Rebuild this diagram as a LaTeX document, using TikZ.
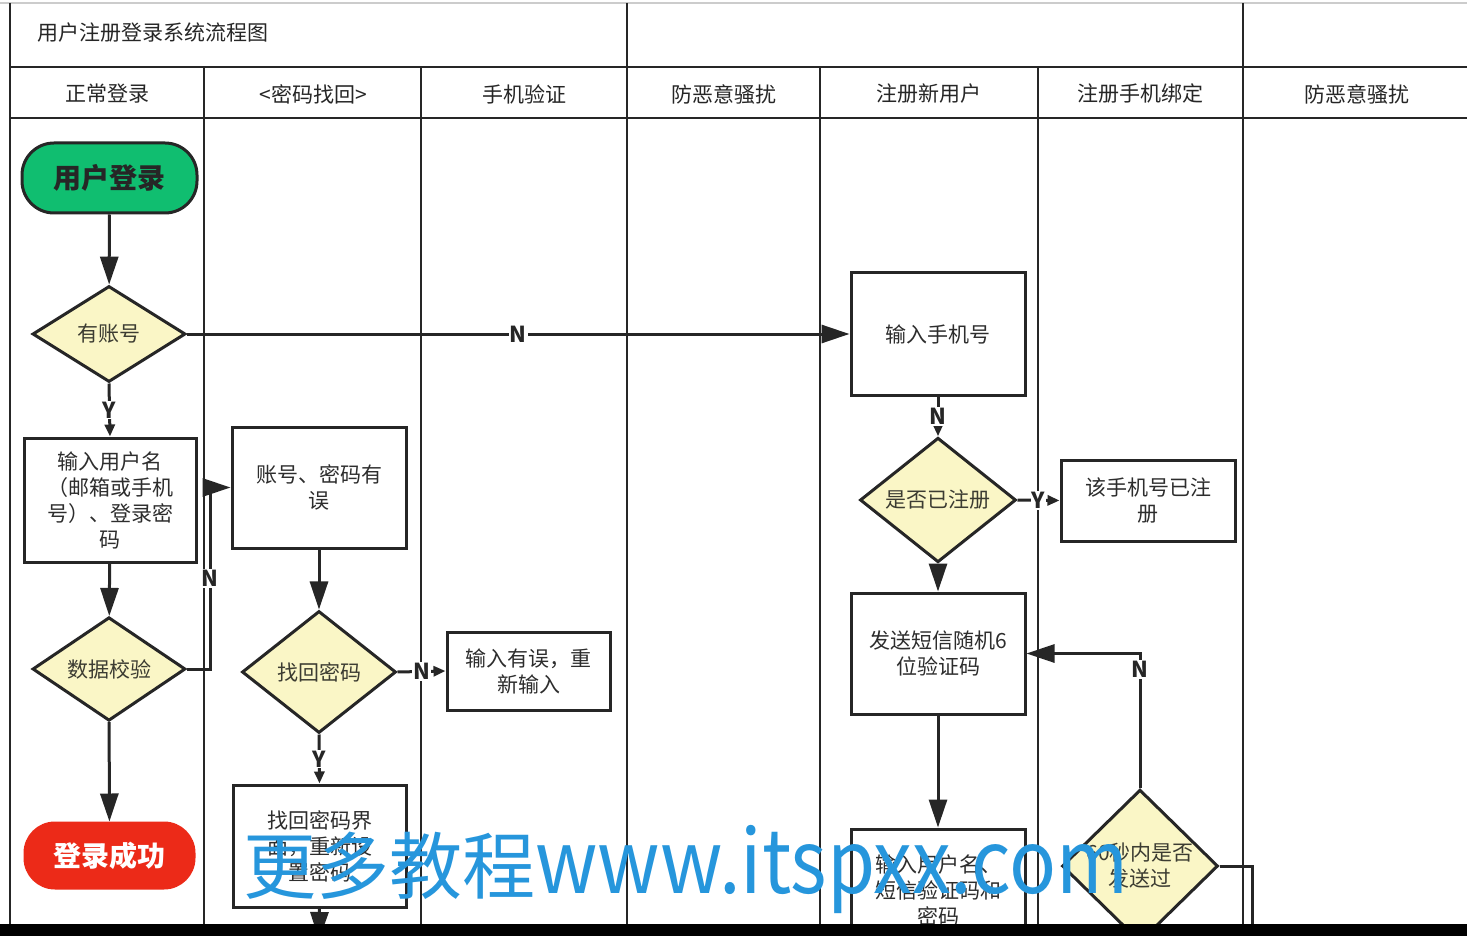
\documentclass[tikz,border=0pt]{standalone}
\usepackage{fontspec}
\usepackage{graphicx}
\setmainfont{Noto Sans CJK SC}
\usetikzlibrary{arrows.meta,shapes.geometric}
\definecolor{ln}{RGB}{38,38,38}
\definecolor{txt}{RGB}{45,45,45}
\definecolor{dtxt}{RGB}{60,60,50}
\definecolor{gfill}{RGB}{16,190,112}
\definecolor{rfill}{RGB}{236,42,24}
\definecolor{yfill}{RGB}{250,246,198}
\definecolor{wm}{RGB}{38,150,220}
\begin{document}
\begin{tikzpicture}[x=0.5pt,y=-0.5pt,
  lane/.style={draw=ln,line width=1.4pt},
  box/.style={draw=ln,line width=1.5pt,fill=white,rectangle,inner sep=1pt,align=center,
    text=txt,font=\fontsize{10.5pt}{13pt}\selectfont},
  dia/.style={draw=ln,line width=1.5pt,fill=yfill,diamond,inner sep=0pt,align=center,
    text=dtxt,font=\fontsize{10.5pt}{13pt}\selectfont},
  pill/.style={draw=ln,line width=1.5pt,rectangle,inner sep=0pt,align=center,
    font=\fontsize{14pt}{16pt}\selectfont\bfseries},
  hdr/.style={text=black!85,font=\fontsize{10.5pt}{13pt}\selectfont},
  conn/.style={draw=ln,line width=1.5pt},
  big/.style={conn,-{Triangle[length=14pt,width=9pt]}},
  small/.style={conn,-{Triangle[length=6pt,width=5pt]}},
  lbl/.style={fill=white,inner sep=0.6pt,text=ln,font=\fontsize{11pt}{12pt}\selectfont\bfseries}
]
\useasboundingbox (0,0) rectangle (1467,936);
\fill[white] (0,0) rectangle (1467,936);
\draw[black!20,line width=0.8pt] (0,3) -- (1467,3);
% swimlane frame
\draw[lane] (10,3) -- (10,930);
\draw[lane] (627,3) -- (627,930);
\draw[lane] (1243,3) -- (1243,930);
\draw[lane] (204,67) -- (204,930);
\draw[lane] (421,67) -- (421,930);
\draw[lane] (820,67) -- (820,930);
\draw[lane] (1038,67) -- (1038,930);
\draw[lane] (10,67) -- (1467,67);
\draw[lane] (10,118) -- (1467,118);
% title and headers
\node[hdr,anchor=west] (title) at (30,33) {用户注册登录系统流程图};
\node[hdr] (h1) at (107,94) {正常登录};
\node[hdr] (h2) at (313,94) {<密码找回>};
\node[hdr] (h3) at (524,94) {手机验证};
\node[hdr] (h4) at (724,94) {防恶意骚扰};
\node[hdr] (h5) at (929,94) {注册新用户};
\node[hdr] (h6) at (1140,94) {注册手机绑定};
\node[hdr] (h7) at (1357,94) {防恶意骚扰};
% nodes
\node[pill,fill=gfill,text=black!85,minimum width=87.5pt,minimum height=35pt,rounded corners=16pt] (start) at (109.5,178) {用户登录};
\node[dia,minimum width=76.5pt,minimum height=48pt] (acc) at (109,334) {有账号};
\node[box,minimum width=86pt,minimum height=62pt] (uname) at (110,500) {输入用户名\\（邮箱或手机\\号）、登录密\\码};
\node[dia,minimum width=76.5pt,minimum height=49pt] (check) at (109,669) {数据校验};
\node[pill,fill=rfill,draw=rfill,text=white,minimum width=84.5pt,minimum height=32.5pt,rounded corners=15pt] (succ) at (109.5,855.5) {登录成功};
\node[box,minimum width=87pt,minimum height=60.5pt] (err) at (319,487.5) {账号、密码有\\误};
\node[dia,minimum width=77pt,minimum height=61pt] (find) at (319,672) {找回密码};
\node[box,minimum width=81.5pt,minimum height=39pt] (retry) at (528.5,671) {输入有误，重\\新输入};
\node[box,minimum width=86.5pt,minimum height=61pt] (reset) at (319.5,846) {找回密码界\\面，重新设\\置密码};
\node[box,minimum width=87pt,minimum height=61pt] (phone) at (938,334) {输入手机号};
\node[dia,minimum width=78pt,minimum height=48pt] (reg) at (938,500) {是否已注册};
\node[box,minimum width=87pt,minimum height=40.5pt] (regd) at (1148,500.5) {该手机号已注\\册};
\node[box,minimum width=87pt,minimum height=60.5pt] (sms) at (938,653.5) {发送短信随机6\\位验证码};
\node[box,minimum width=87pt,minimum height=61pt] (input2) at (938,890) {输入用户名、\\短信验证码和\\密码};
\node[dia,minimum width=78pt,minimum height=60pt] (d60) at (1140,866) {60秒内是否\\发送过};
\coordinate (out1) at (319,940);
\coordinate (out2) at (1252,940);
% connectors
\draw[big] (start) -- (acc);
\draw[big] (acc.east) -- node[lbl]{N} (phone.west);
\draw[small] (acc.south) -- node[lbl]{Y} (uname.north);
\draw[big] (uname) -- (check);
\draw[big] (check.east) -- ++(23,0) |- node[lbl,pos=0.25]{N} (err.west);
\draw[big] (check) -- (succ);
\draw[big] (err) -- (find);
\draw[small] (find.east) -- node[lbl]{N} (retry.west);
\draw[small] (find.south) -- node[lbl]{Y} (reset.north);
\draw[big] (reset.south) -- (out1);
\draw[small] (phone.south) -- node[lbl]{N} (reg.north);
\draw[small] (reg.east) -- node[lbl]{Y} (regd.west);
\draw[big] (reg) -- (sms);
\draw[big] (sms) -- (input2);
\draw[big] (d60.north) |- node[lbl,pos=0.44]{N} (sms.east);
\draw[conn] (d60.east) -| (out2);
% watermark
\node[anchor=base west,inner sep=0pt,text=wm] (wmark) at (243,893)
  {{\fontsize{36.5pt}{40pt}\selectfont 更多教程}\resizebox{296.5pt}{\height}{\fontsize{44pt}{46pt}\selectfont www.itspxx.com}};
% bottom band
\fill[black] (0,924) rectangle (1467,936);
\end{tikzpicture}
\end{document}
